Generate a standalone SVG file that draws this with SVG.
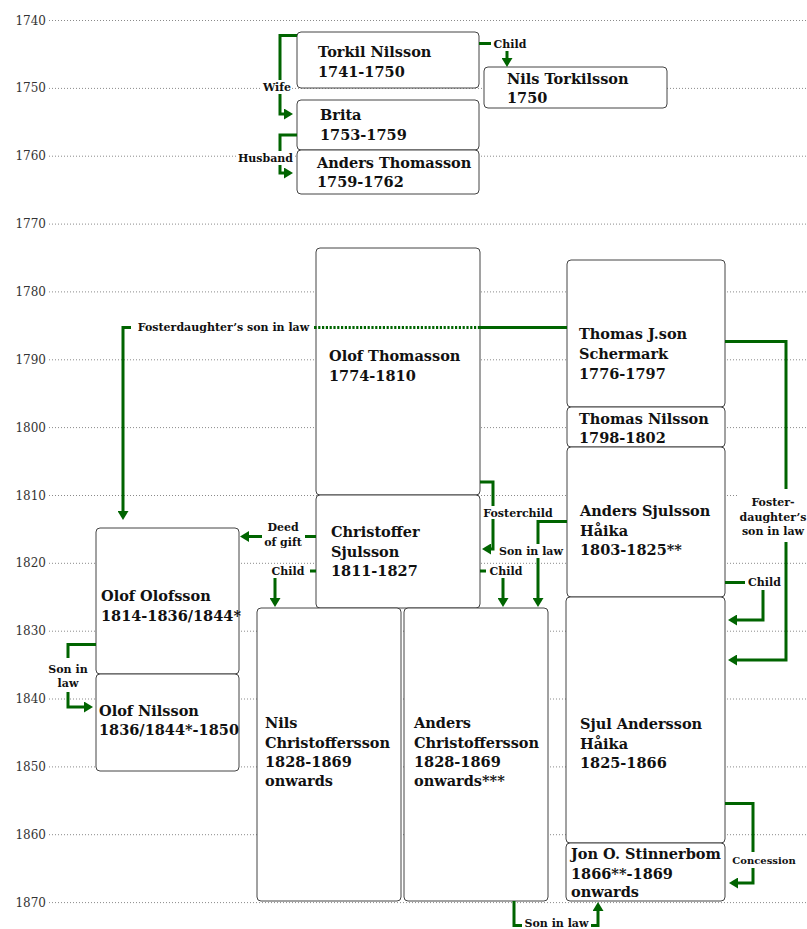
<svg xmlns="http://www.w3.org/2000/svg" width="807" height="929" viewBox="0 0 807 929">
<style>
.grid{stroke:#8a8a8a;stroke-width:1;stroke-dasharray:1 2;fill:none}
.yr{font-family:"DejaVu Serif",serif;font-size:12px;fill:#333;text-anchor:end}
.node rect{fill:#fff;stroke:#444;stroke-width:1}
.nt{font-family:"DejaVu Serif",serif;font-weight:bold;font-size:14.5px;fill:#111}
.conn{fill:none;stroke:#006400;stroke-width:3;stroke-linejoin:miter}
.dot{fill:none;stroke:#006400;stroke-width:3;stroke-dasharray:2.2 1.6}
.arr{marker-end:url(#ah)}
.lbg{fill:#fff}
.lbl{font-family:"DejaVu Serif",serif;font-weight:bold;font-size:11px;fill:#111;text-anchor:middle}
</style>
<defs>
<marker id="ah" markerUnits="userSpaceOnUse" markerWidth="9" markerHeight="11" refX="6" refY="5.5" orient="auto">
<path d="M0,0 L9,5.5 L0,11 z" fill="#006400"/>
</marker>
</defs>
<rect width="807" height="929" fill="#fff"/>
<g id="timeline">
<path class="grid" d="M49,20.5H807M49,88.4H807M49,156.2H807M49,224.1H807M49,291.9H807M49,359.8H807M49,427.6H807M49,495.5H807M49,563.3H807M49,631.2H807M49,699H807M49,766.9H807M49,834.7H807M49,902.6H807"/>
<text class="yr" x="46" y="24.5">1740</text>
<text class="yr" x="46" y="92.4">1750</text>
<text class="yr" x="46" y="160.2">1760</text>
<text class="yr" x="46" y="228.1">1770</text>
<text class="yr" x="46" y="295.9">1780</text>
<text class="yr" x="46" y="363.8">1790</text>
<text class="yr" x="46" y="431.6">1800</text>
<text class="yr" x="46" y="499.5">1810</text>
<text class="yr" x="46" y="567.3">1820</text>
<text class="yr" x="46" y="635.2">1830</text>
<text class="yr" x="46" y="703">1840</text>
<text class="yr" x="46" y="770.9">1850</text>
<text class="yr" x="46" y="838.7">1860</text>
<text class="yr" x="46" y="906.6">1870</text>
</g>
<g id="n-torkil" class="node"><rect x="297" y="32" width="182" height="56" rx="4"/><text class="nt" x="318" y="57">Torkil Nilsson</text><text class="nt" x="318" y="77">1741-1750</text></g>
<g id="n-nils-t" class="node"><rect x="484" y="67" width="183" height="41" rx="4"/><text class="nt" x="507" y="84">Nils Torkilsson</text><text class="nt" x="507" y="103">1750</text></g>
<g id="n-brita" class="node"><rect x="297" y="100" width="182" height="50" rx="4"/><text class="nt" x="320" y="120">Brita</text><text class="nt" x="320" y="140">1753-1759</text></g>
<g id="n-anders-t" class="node"><rect x="297" y="150" width="182" height="44" rx="4"/><text class="nt" x="317" y="168">Anders Thomasson</text><text class="nt" x="317" y="187">1759-1762</text></g>
<g id="n-olof-t" class="node"><rect x="316" y="248" width="164" height="247" rx="4"/><text class="nt" x="329" y="361">Olof Thomasson</text><text class="nt" x="329" y="381">1774-1810</text></g>
<g id="n-christoffer" class="node"><rect x="316" y="495" width="164" height="113" rx="4"/><text class="nt" x="331" y="537">Christoffer</text><text class="nt" x="331" y="557">Sjulsson</text><text class="nt" x="331" y="576">1811-1827</text></g>
<g id="n-thomas-j" class="node"><rect x="567" y="260" width="158" height="147" rx="4"/><text class="nt" x="579" y="339">Thomas J.son</text><text class="nt" x="579" y="359">Schermark</text><text class="nt" x="579" y="379">1776-1797</text></g>
<g id="n-thomas-n" class="node"><rect x="567" y="407" width="158" height="40" rx="4"/><text class="nt" x="579" y="424">Thomas Nilsson</text><text class="nt" x="579" y="443">1798-1802</text></g>
<g id="n-anders-s" class="node"><rect x="567" y="447" width="158" height="150" rx="4"/><text class="nt" x="580" y="516">Anders Sjulsson</text><text class="nt" x="580" y="536">Håika</text><text class="nt" x="580" y="555">1803-1825**</text></g>
<g id="n-sjul" class="node"><rect x="566" y="597" width="159" height="246" rx="4"/><text class="nt" x="580" y="729">Sjul Andersson</text><text class="nt" x="580" y="749">Håika</text><text class="nt" x="580" y="768">1825-1866</text></g>
<g id="n-jon" class="node"><rect x="566" y="843" width="159" height="58" rx="4"/><text class="nt" x="571" y="859">Jon O. Stinnerbom</text><text class="nt" x="571" y="879">1866**-1869</text><text class="nt" x="571" y="897">onwards</text></g>
<g id="n-olof-o" class="node"><rect x="96" y="528" width="143" height="146" rx="4"/><text class="nt" x="101" y="601">Olof Olofsson</text><text class="nt" x="101" y="621">1814-1836/1844*</text></g>
<g id="n-olof-n" class="node"><rect x="96" y="674" width="143" height="97" rx="4"/><text class="nt" x="99" y="716">Olof Nilsson</text><text class="nt" x="99" y="735">1836/1844*-1850</text></g>
<g id="n-nils-c" class="node"><rect x="257" y="608" width="144" height="293" rx="4"/><text class="nt" x="265" y="728">Nils</text><text class="nt" x="265" y="748">Christoffersson</text><text class="nt" x="265" y="767">1828-1869</text><text class="nt" x="265" y="786">onwards</text></g>
<g id="n-anders-c" class="node"><rect x="404" y="608" width="144" height="293" rx="4"/><text class="nt" x="414" y="728">Anders</text><text class="nt" x="414" y="748">Christoffersson</text><text class="nt" x="414" y="767">1828-1869</text><text class="nt" x="414" y="786">onwards***</text></g>
<g id="connectors">
<path class="conn arr" d="M297,35.5H280V114H290"/>
<path class="conn arr" d="M297,135H280V173H290"/>
<path class="conn arr" d="M479,43.5H507V64"/>
<path class="conn" d="M567,327.5H480"/>
<path class="dot" d="M480,327.5H316"/>
<path class="conn arr" d="M316,327.5H123V517"/>
<path class="conn arr" d="M725,341.5H786V660H731"/>
<path class="conn arr" d="M725,582.5H763V620H731"/>
<path class="conn arr" d="M725,803.5H753V883H732"/>
<path class="conn arr" d="M514,901V925.5H598V905"/>
<path class="conn arr" d="M480,482H493V549H485"/>
<path class="conn arr" d="M567,521.5H538V604"/>
<path class="conn arr" d="M480,571H503V604"/>
<path class="conn arr" d="M316,571H275V604"/>
<path class="conn arr" d="M316,536.5H243"/>
<path class="conn arr" d="M96,644.5H68V707H90"/>
<rect class="lbg" x="262" y="80" width="30" height="14"/><text class="lbl" x="277" y="91">Wife</text>
<rect class="lbg" x="237" y="151" width="57" height="14"/><text class="lbl" x="265.5" y="162">Husband</text>
<rect class="lbg" x="491" y="37" width="38" height="14"/><text class="lbl" x="510" y="48">Child</text>
<rect class="lbg" x="131" y="320" width="183" height="15"/><text class="lbl" x="223.5" y="331">Fosterdaughter’s son in law</text>
<rect class="lbg" x="262" y="519" width="43" height="31"/><text class="lbl" x="283" y="531">Deed</text><text class="lbl" x="283" y="546">of gift</text>
<rect class="lbg" x="268" y="564" width="42" height="14"/><text class="lbl" x="288" y="575">Child</text>
<rect class="lbg" x="481" y="506" width="75" height="13"/><text class="lbl" x="518" y="517">Fosterchild</text>
<rect class="lbg" x="496" y="544" width="70" height="14"/><text class="lbl" x="531" y="555">Son in law</text>
<rect class="lbg" x="486" y="564" width="40" height="14"/><text class="lbl" x="506" y="575">Child</text>
<rect class="lbg" x="737" y="489" width="70" height="53"/><text class="lbl" x="773" y="506">Foster-</text><text class="lbl" x="773" y="521">daughter’s</text><text class="lbl" x="773" y="535">son in law</text>
<rect class="lbg" x="745" y="574" width="39" height="16"/><text class="lbl" x="764.5" y="586">Child</text>
<rect class="lbg" x="731" y="852" width="66" height="16"/><text class="lbl" x="764" y="864" style="font-size:10px">Concession</text>
<rect class="lbg" x="522" y="916" width="69" height="13"/><text class="lbl" x="556.5" y="927">Son in law</text>
<rect class="lbg" x="46" y="658" width="44" height="34"/><text class="lbl" x="68" y="673">Son in</text><text class="lbl" x="68" y="687">law</text>
</g>
</svg>
